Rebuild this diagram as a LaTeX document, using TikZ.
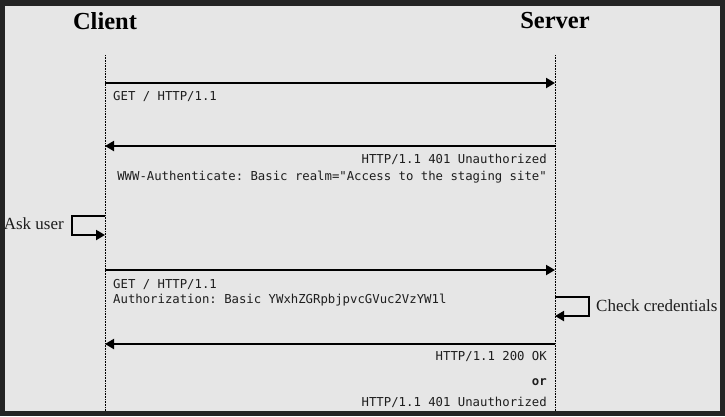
\documentclass[tikz,border=0pt]{standalone}
\usepackage{fontspec}
\setmainfont{Liberation Serif}
\setmonofont{DejaVu Sans Mono}
\usetikzlibrary{arrows.meta}
\definecolor{frame}{HTML}{242424}
\definecolor{paper}{HTML}{E6E6E6}
\definecolor{ink}{HTML}{1E1E1E}
\begin{document}
\begin{tikzpicture}[x=1pt, y=-1pt,
	msg/.style={line width=2pt, -{Triangle[length=9pt,width=10pt]}},
	loopline/.style={line width=2pt, -{Triangle[length=9pt,width=10pt]}},
	lbl/.style={font=\fontsize{12.3}{14}\ttfamily, text=ink, inner sep=0pt},
	actor/.style={font=\fontsize{24.5}{28}\selectfont\bfseries, inner sep=0pt},
	note/.style={font=\fontsize{17}{19}\selectfont, text=ink, inner sep=0pt},
	lifeline/.style={densely dotted, line width=0.6pt}]

	%background
	\fill[frame] (0,0) rectangle (725,416);
	\fill[paper] (5,6) rectangle (720,411);

	% actors
	\node[actor] (client) at (105,21) {Client};
	\node[actor] (server) at (555,21) {Server};

	% lifelines
	\coordinate (ctop) at (105,55);
	\coordinate (cbot) at (105,411);
	\coordinate (stop) at (555,55);
	\coordinate (sbot) at (555,411);
	\draw[lifeline] (ctop) -- (cbot);
	\draw[lifeline] (stop) -- (sbot);

	% first request
	\coordinate (c1) at (105,83);
	\coordinate (s1) at (555,83);
	\draw[msg] (c1) -- (s1);
	\node[lbl, anchor=base west] (req1) at (113,100.5) {GET / HTTP/1.1};

	% challenge
	\coordinate (s2) at (555,146);
	\coordinate (c2) at (105,146);
	\draw[msg] (s2) -- (c2);
	\node[lbl, anchor=base east] (resp1) at (547,163.5) {HTTP/1.1 401 Unauthorized};
	\node[lbl, anchor=base east] (auth1) at (547,180.5) {WWW-Authenticate: Basic realm="Access to the staging site"};

	% ask user
	\coordinate (ask1) at (105,216);
	\coordinate (ask2) at (105,235);
	\draw[loopline] (ask1) -- ++(-33,0) |- (ask2);
	\node[note, anchor=east] (ask) at (64,224) {Ask user};

	% second request
	\coordinate (c3) at (105,270);
	\coordinate (s3) at (555,270);
	\draw[msg] (c3) -- (s3);
	\node[lbl, anchor=base west] (req2) at (113,288.5) {GET / HTTP/1.1};
	\node[lbl, anchor=base west] (auth2) at (113,303.5) {Authorization: Basic YWxhZGRpbjpvcGVuc2VzYW1l};

	% check credentials
	\coordinate (chk1) at (555,297);
	\coordinate (chk2) at (555,316);
	\draw[loopline] (chk1) -- ++(34,0) |- (chk2);
	\node[note, anchor=west] (chk) at (596,306) {Check credentials};

	% final response
	\coordinate (s4) at (555,344);
	\coordinate (c4) at (105,344);
	\draw[msg] (s4) -- (c4);
	\node[lbl, anchor=base east] (ok) at (547,360.5) {HTTP/1.1 200 OK};
	\node[lbl, anchor=base east, font=\fontsize{12.3}{14}\ttfamily\bfseries] (or) at (547,385.5) {or};
	\node[lbl, anchor=base east] (resp2) at (547,406.5) {HTTP/1.1 401 Unauthorized};
\end{tikzpicture}
\end{document}
